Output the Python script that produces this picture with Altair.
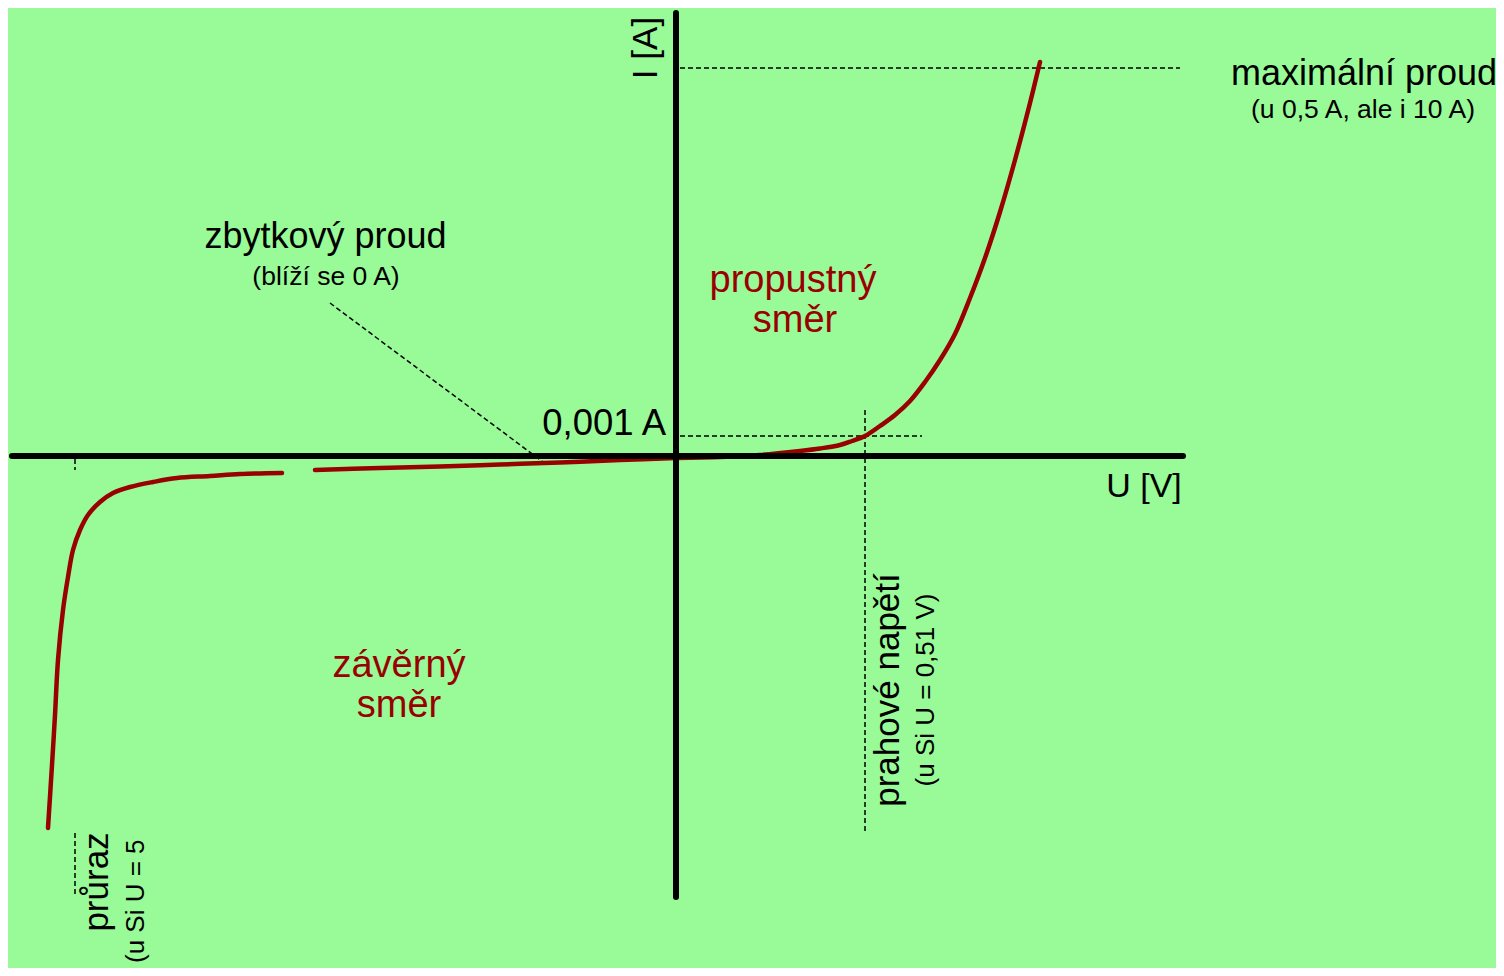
import altair as alt
import pandas as pd

# ---- data (schematic units: U right, I up; origin at the axes' crossing) ----
fwd_u = [0.00, 0.44, 0.84, 1.24, 1.44, 1.64, 1.76, 1.89, 2.04, 2.19, 2.34, 2.49, 2.64, 2.79, 2.94, 3.09, 3.24, 3.39, 3.54, 3.64]
fwd_i = [-0.02, -0.01, 0.01, 0.05, 0.075, 0.11, 0.15, 0.20, 0.30, 0.41, 0.55, 0.74, 0.96, 1.22, 1.58, 1.98, 2.44, 2.96, 3.53, 3.94]

rev1_u = [-3.61, -2.96, -2.36, -1.76, -1.16, -0.56, 0.00]
rev1_i = [-0.14, -0.12, -0.105, -0.085, -0.065, -0.04, -0.02]

rev2_u = [-6.28, -6.24, -6.21, -6.18, -6.13, -6.08, -6.03, -5.96, -5.88, -5.76, -5.63, -5.46, -5.23, -4.99, -4.66, -4.36, -3.94]
rev2_i = [-3.72, -3.09, -2.59, -2.04, -1.54, -1.21, -0.94, -0.74, -0.59, -0.46, -0.37, -0.31, -0.26, -0.22, -0.20, -0.18, -0.17]

# axes (x1, y1, x2, y2)
axis_x1 = [-6.64, 0.0]
axis_y1 = [0.0, 4.43]
axis_x2 = [5.07, 0.0]
axis_y2 = [0.0, -4.41]

# dashed guide lines
dash_x1 = [0.04, 0.04, 1.89, -3.46, -6.01, -6.01]
dash_y1 = [3.88, 0.20, 0.46, 1.53, -0.03, -3.77]
dash_x2 = [5.04, 2.46, 1.89, -1.33, -6.01, -6.01]
dash_y2 = [3.88, 0.20, -3.76, -0.06, -0.14, -4.40]

# horizontal black labels
big_labels = ["maximální proud", "zbytkový proud"]
big_x = [6.88, -3.505]
big_y = [3.71, 2.08]

small_labels = ["(u 0,5 A, ale i 10 A)", "(blíží se 0 A)"]
small_x = [6.87, -3.50]
small_y = [3.38, 1.71]

red_labels = ["propustný", "směr", "závěrný", "směr"]
red_x = [1.17, 1.19, -2.77, -2.77]
red_y = [1.64, 1.24, -2.21, -2.61]

# rotated labels
rot_big_labels = ["I [A]", "prahové napětí", "průraz"]
rot_big_x = [-0.19, 2.23, -5.68]
rot_big_y = [4.08, -2.34, -4.26]

rot_small_labels = ["(u Si U = 0,51 V)"]
rot_small_x = [2.58]
rot_small_y = [-2.34]

cut_label = ["(u Si U = 5"]
cut_x = [-5.32]
cut_y = [-5.07]

FONT = "Liberation Sans"
RED = "#990000"

xs = alt.Scale(domain=[-6.68, 8.20], nice=False, zero=False)
ys = alt.Scale(domain=[-5.12, 4.48], nice=False, zero=False)


def X(f="x"):
    return alt.X(f"{f}:Q", scale=xs, axis=None)


def Y(f="y"):
    return alt.Y(f"{f}:Q", scale=ys, axis=None)


curve_df = pd.concat([
    pd.DataFrame({"x": fwd_u, "y": fwd_i, "seg": "f", "o": range(len(fwd_u))}),
    pd.DataFrame({"x": rev1_u, "y": rev1_i, "seg": "r1", "o": range(len(rev1_u))}),
    pd.DataFrame({"x": rev2_u, "y": rev2_i, "seg": "r2", "o": range(len(rev2_u))}),
])

curve = alt.Chart(curve_df).mark_line(
    color=RED, strokeWidth=4.5, interpolate="catmull-rom", strokeCap="round"
).encode(x=X(), y=Y(), detail="seg:N", order="o:Q")

axes_df = pd.DataFrame({"x": axis_x1, "y": axis_y1, "x2": axis_x2, "y2": axis_y2})
axes = alt.Chart(axes_df).mark_rule(color="black", strokeWidth=6, strokeCap="round").encode(
    x=X(), y=Y(), x2="x2:Q", y2="y2:Q")

dash_df = pd.DataFrame({"x": dash_x1, "y": dash_y1, "x2": dash_x2, "y2": dash_y2})
dashes = alt.Chart(dash_df).mark_rule(color="black", strokeWidth=1.5, strokeDash=[5, 3]).encode(
    x=X(), y=Y(), x2="x2:Q", y2="y2:Q")


def text_layer(labels, x, y, size, color="black", angle=0, align="center", baseline="alphabetic"):
    df = pd.DataFrame({"x": x, "y": y, "t": labels})
    kw = dict(font=FONT, fontSize=size, color=color, align=align, baseline=baseline)
    if angle:
        kw["angle"] = angle
    return alt.Chart(df).mark_text(**kw).encode(x=X(), y=Y(), text="t:N")


t_big = text_layer(big_labels, big_x, big_y, 36)
t_small = text_layer(small_labels, small_x, small_y, 26.5)
t_red = text_layer(red_labels, red_x, red_y, 38, color=RED)
t_001 = text_layer(["0,001 A"], [-0.10], [0.21], 36.5, align="right")
t_uv = text_layer(["U [V]"], [4.68], [-0.41], 34)
t_rot_big = text_layer(rot_big_labels, rot_big_x, rot_big_y, 35, angle=270)
t_rot_small = text_layer(rot_small_labels, rot_small_x, rot_small_y, 26, angle=270)
t_cut = text_layer(cut_label, cut_x, cut_y, 26, angle=270, align="left")

chart = alt.layer(
    dashes, curve, axes, t_big, t_small, t_red, t_001, t_uv, t_rot_big, t_rot_small, t_cut
).properties(
    width=1488, height=960, background="#98FB98", padding=0,
    autosize=alt.AutoSizeParams(type="none")
).configure_view(stroke=None)

chart.save("out.html", embed_options={"renderer": "svg", "actions": False})
